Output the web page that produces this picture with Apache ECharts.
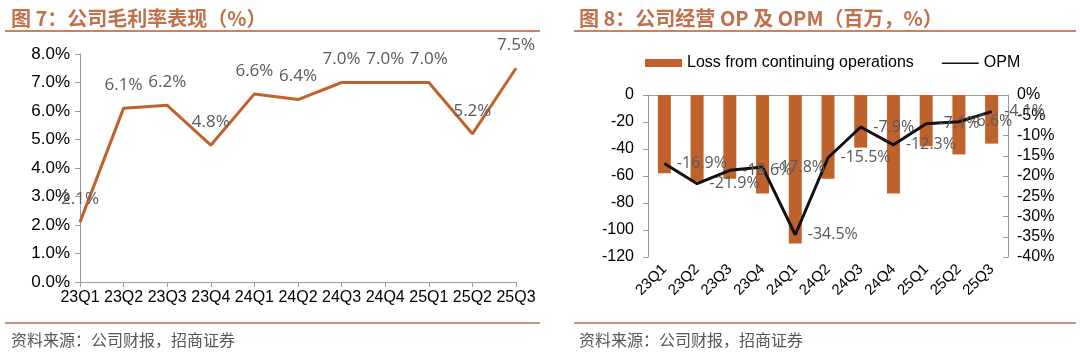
<!DOCTYPE html>
<html>
<head>
<meta charset="utf-8">
<script src="https://cdn.jsdelivr.net/npm/echarts@6/dist/echarts.min.js"></script>
<style>
  html, body { margin: 0; padding: 0; background: #fff; }
  #chart { width: 1080px; height: 353px; }
</style>
</head>
<body>
<div id="chart"></div>
<script>
// quarters shared by both charts
var quarters = ["23Q1", "23Q2", "23Q3", "23Q4", "24Q1", "24Q2", "24Q3", "24Q4", "25Q1", "25Q2", "25Q3"];

// fig 7: gross margin (%)
var grossMargin = [2.1, 6.1, 6.2, 4.8, 6.6, 6.4, 7.0, 7.0, 7.0, 5.2, 7.5];

// fig 8: operating loss (million) and OPM (%)
var opLoss = [-58, -64, -62, -73, -110, -62, -39, -73, -38, -44, -36];
var opm = [-16.9, -21.9, -18.6, -17.8, -34.5, -15.5, -7.9, -12.3, -7.1, -6.6, -4.1];

var brown = "#C0622B";
var titleColor = "#C0704A";
var axisGray = "#9a9a9a";
var labelFont = "Liberation Sans, Arial, sans-serif";
var cjkFont = "Noto Sans CJK SC, sans-serif";

var chart = echarts.init(document.getElementById("chart"), null, { renderer: "canvas" });

var option = {
  animation: false,
  title: [
    {
      text: "图 7：公司毛利率表现（%）",
      left: 6, top: 3,
      textStyle: { color: titleColor, fontSize: 20, fontWeight: "bold", fontFamily: cjkFont }
    },
    {
      text: "图 8：公司经营 OP 及 OPM（百万，%）",
      left: 574, top: 3,
      textStyle: { color: titleColor, fontSize: 20, fontWeight: "bold", fontFamily: cjkFont }
    },
    {
      text: "资料来源：公司财报，招商证券",
      left: 6, top: 327,
      textStyle: { color: "#555", fontSize: 16, fontWeight: "normal", fontFamily: cjkFont }
    },
    {
      text: "资料来源：公司财报，招商证券",
      left: 574, top: 327,
      textStyle: { color: "#555", fontSize: 16, fontWeight: "normal", fontFamily: cjkFont }
    }
  ],
  graphic: [
    { type: "line", shape: { x1: 5, y1: 31, x2: 540, y2: 31 }, style: { stroke: "#C98363", lineWidth: 2 } },
    { type: "line", shape: { x1: 574, y1: 31, x2: 1076, y2: 31 }, style: { stroke: "#C98363", lineWidth: 2 } },
    { type: "line", shape: { x1: 5, y1: 323, x2: 540, y2: 323 }, style: { stroke: "#B86A60", lineWidth: 1.5 } },
    { type: "line", shape: { x1: 574, y1: 323, x2: 1076, y2: 323 }, style: { stroke: "#B86A60", lineWidth: 1.5 } }
  ],
  legend: {
    left: 640, top: 50,
    itemWidth: 37, itemHeight: 8, itemGap: 28,
    textStyle: { fontSize: 16, color: "#000", fontFamily: labelFont },
    data: [
      { name: "Loss from continuing operations", icon: "rect" },
      { name: "OPM", icon: "path://M0,0h0.01v0.01h-0.01zM0,3.4h37v1.6h-37zM0,8h0.01v0.01h-0.01z" }
    ]
  },
  grid: [
    { left: 80, right: 564, top: 54, bottom: 71 },
    { left: 648, right: 72, top: 95, bottom: 96 }
  ],
  xAxis: [
    {
      gridIndex: 0, type: "category", data: quarters, boundaryGap: false,
      axisLine: { lineStyle: { color: axisGray } },
      axisTick: { length: 5, lineStyle: { color: axisGray } },
      axisLabel: { color: "#000", fontSize: 16, margin: 8, fontFamily: labelFont, interval: 0 }
    },
    {
      gridIndex: 1, type: "category", data: quarters, position: "bottom",
      axisLine: { show: false }, axisTick: { show: false },
      axisLabel: { color: "#000", fontSize: 15, rotate: 45, margin: 10, fontFamily: labelFont, interval: 0 }
    },
    {
      gridIndex: 1, type: "category", data: quarters, position: "top",
      axisLine: { lineStyle: { color: axisGray } },
      axisTick: { inside: true, length: 5, lineStyle: { color: axisGray } },
      axisLabel: { show: false }
    }
  ],
  yAxis: [
    {
      gridIndex: 0, type: "value", min: 0, max: 8, interval: 1,
      axisLine: { show: true, lineStyle: { color: axisGray } },
      axisTick: { show: true, length: 5, lineStyle: { color: axisGray } },
      splitLine: { show: false },
      axisLabel: {
        color: "#000", fontSize: 17, margin: 10, fontFamily: labelFont,
        formatter: function (v) { return v.toFixed(1) + "%"; }
      }
    },
    {
      gridIndex: 1, type: "value", min: -120, max: 0, interval: 20,
      axisLine: { show: true, lineStyle: { color: axisGray } },
      axisTick: { show: true, length: 5, lineStyle: { color: axisGray } },
      splitLine: { show: false },
      axisLabel: { color: "#000", fontSize: 16, margin: 14, fontFamily: labelFont }
    },
    {
      gridIndex: 1, type: "value", min: -40, max: 0, interval: 5, position: "right",
      axisLine: { show: true, lineStyle: { color: axisGray } },
      axisTick: { show: true, inside: true, length: 5, lineStyle: { color: axisGray } },
      splitLine: { show: false },
      axisLabel: {
        color: "#000", fontSize: 16, margin: 9, fontFamily: labelFont,
        formatter: function (v) { return v + "%"; }
      }
    }
  ],
  series: [
    {
      name: "Gross margin", type: "line", xAxisIndex: 0, yAxisIndex: 0,
      data: grossMargin, symbol: "circle", symbolSize: 1, showSymbol: true,
      lineStyle: { color: brown, width: 3 },
      itemStyle: { color: brown },
      label: {
        show: true, position: "top", distance: 14,
        color: "#595959", fontSize: 17, fontFamily: "Open Sans, sans-serif",
        formatter: function (p) { return p.value.toFixed(1) + "%"; }
      }
    },
    {
      name: "Loss from continuing operations", type: "bar", xAxisIndex: 1, yAxisIndex: 1,
      data: opLoss, barWidth: 13,
      itemStyle: { color: brown }
    },
    {
      name: "OPM", type: "line", xAxisIndex: 1, yAxisIndex: 2,
      data: opm, symbol: "circle", symbolSize: 1, showSymbol: true, z: 3,
      lineStyle: { color: "#111", width: 3 },
      itemStyle: { color: "#111" },
      label: {
        show: true, position: "right", distance: 12,
        color: "#595959", fontSize: 16, fontFamily: "Open Sans, sans-serif",
        formatter: function (p) { return p.value.toFixed(1) + "%"; }
      }
    }
  ]
};

chart.setOption(option);
window.addEventListener("resize", chart.resize);
</script>
</body>
</html>
